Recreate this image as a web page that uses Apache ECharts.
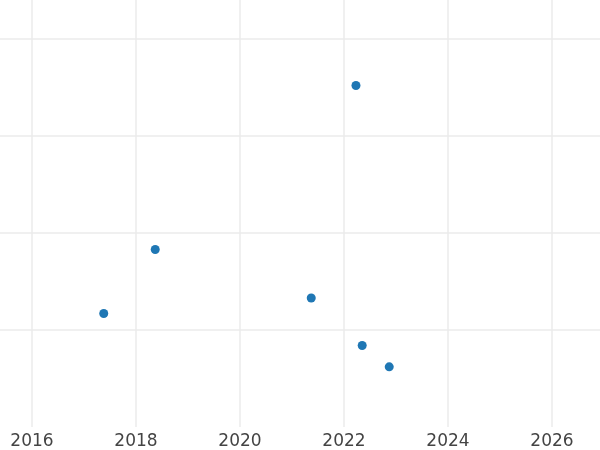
<!DOCTYPE html>
<html>
<head>
<meta charset="utf-8">
<script src="https://cdn.jsdelivr.net/npm/echarts@6/dist/echarts.min.js"></script>
<style>
  html, body { margin: 0; padding: 0; background: #fff; }
  #main { width: 600px; height: 450px; }
</style>
</head>
<body>
<div id="main"></div>
<script>
// data (x in decimal years, y has no visible scale)
var years = [2017.38, 2018.37, 2021.37, 2022.23, 2022.35, 2022.87];
var values = [1.17, 1.83, 1.33, 3.52, 0.84, 0.62];

var points = years.map(function (x, i) { return [x, values[i]]; });

var chart = echarts.init(document.getElementById('main'));
var option = {
  animation: false,
  backgroundColor: '#ffffff',
  grid: { left: 0, right: 0, top: 0, bottom: 23 },
  xAxis: {
    type: 'value',
    min: 2015.385,
    max: 2026.923,
    splitNumber: 5,
    axisLine: { show: false },
    axisTick: { show: false },
    axisLabel: {
      showMinLabel: false,
      showMaxLabel: false,
      color: '#444444',
      fontSize: 17,
      fontFamily: 'DejaVu Sans',
      margin: 6,
      formatter: function (v) { return v % 1 === 0 ? String(v) : ''; }
    },
    splitLine: {
      show: true,
      showMinLine: false,
      showMaxLine: false,
      lineStyle: { color: '#ebebeb', width: 1.5 }
    }
  },
  yAxis: {
    type: 'value',
    min: 0,
    max: 4.402,
    interval: 1,
    axisLine: { show: false },
    axisTick: { show: false },
    axisLabel: { show: false },
    splitLine: {
      show: true,
      showMinLine: false,
      showMaxLine: false,
      lineStyle: { color: '#ebebeb', width: 1.5 }
    }
  },
  series: [{
    type: 'scatter',
    data: points,
    symbolSize: 9,
    itemStyle: { color: '#1f77b4', opacity: 1 }
  }]
};
chart.setOption(option);
</script>
</body>
</html>
